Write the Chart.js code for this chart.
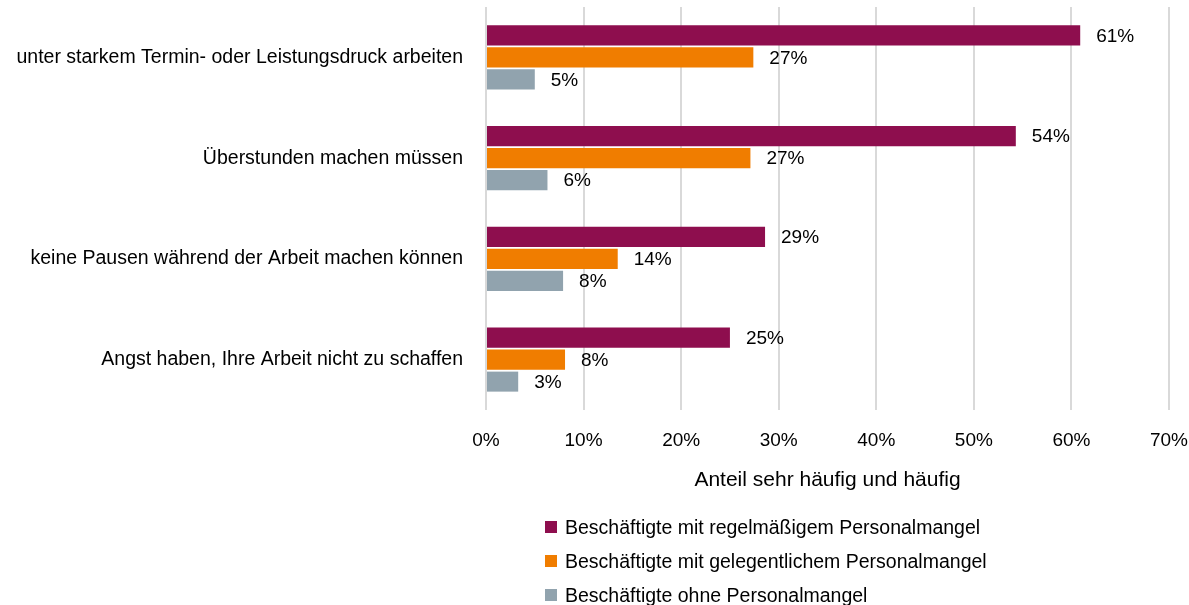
<!DOCTYPE html>
<html lang="de">
<head>
    <meta charset="UTF-8">
    <title>Personalmangel und Arbeitsbelastung</title>
    <script src="https://cdn.jsdelivr.net/npm/chart.js@4.4.1/dist/chart.umd.min.js"></script>
    <style>
        html, body {
            margin: 0;
            padding: 0;
            background: #fff;
        }
        #wrap {
            position: relative;
            width: 1189px;
            height: 605px;
            font-family: "Liberation Sans", Arial, sans-serif;
        }
        #legend {
            position: absolute;
            left: 545px;
            top: 510px;
            margin: 0;
            padding: 0;
            list-style: none;
        }
        #legend li {
            display: flex;
            align-items: center;
            height: 34px;
            font-size: 19.5px;
            color: #000;
            white-space: nowrap;
        }
        #legend span {
            display: inline-block;
            width: 12px;
            height: 12px;
            margin-right: 8px;
        }
    </style>
</head>
<body>
    <div id="wrap">
        <canvas id="chart" width="1189" height="605"></canvas>
        <ul id="legend"></ul>
    </div>

    <script>
        const categories = [
            'unter starkem Termin- oder Leistungsdruck arbeiten',
            'Überstunden machen müssen',
            'keine Pausen während der Arbeit machen können',
            'Angst haben, Ihre Arbeit nicht zu schaffen'
        ];
        const seriesNames = [
            'Beschäftigte mit regelmäßigem Personalmangel',
            'Beschäftigte mit gelegentlichem Personalmangel',
            'Beschäftigte ohne Personalmangel'
        ];
        const regelmaessig = [60.9, 54.3, 28.6, 25.0];
        const gelegentlich = [27.4, 27.1, 13.5, 8.1];
        const ohne = [5.0, 6.3, 7.9, 3.3];
        const xTicks = [0, 10, 20, 30, 40, 50, 60, 70];
        const colors = ['#8e0e4e', '#f07d00', '#91a3ae'];

        const FONT = '"Liberation Sans", Arial, sans-serif';

        // value labels right of each bar
        const barLabels = {
            id: 'barLabels',
            afterDatasetsDraw(chart) {
                const ctx = chart.ctx;
                ctx.save();
                ctx.font = '19px ' + FONT;
                ctx.fillStyle = '#000';
                ctx.textAlign = 'left';
                ctx.textBaseline = 'middle';
                chart.data.datasets.forEach((ds, i) => {
                    chart.getDatasetMeta(i).data.forEach((bar, j) => {
                        ctx.fillText(Math.round(ds.data[j]) + '%', bar.x + 16, bar.y + 1);
                    });
                });
                ctx.restore();
            }
        };

        const chart = new Chart(document.getElementById('chart').getContext('2d'), {
            type: 'bar',
            data: {
                labels: categories,
                datasets: [regelmaessig, gelegentlich, ohne].map((d, i) => ({
                    label: seriesNames[i],
                    data: d,
                    backgroundColor: colors[i],
                    categoryPercentage: 0.655,
                    barPercentage: 0.91
                }))
            },
            options: {
                indexAxis: 'y',
                responsive: false,
                animation: false,
                layout: { padding: { top: 7, bottom: 112, left: 0, right: 0 } },
                plugins: {
                    legend: { display: false },
                    tooltip: { enabled: false }
                },
                scales: {
                    x: {
                        min: 0,
                        max: 70,
                        afterBuildTicks: (scale) => { scale.ticks = xTicks.map(v => ({ value: v })); },
                        afterFit: (scale) => {
                            scale.height = 83;
                            scale.paddingLeft = 0;
                            scale.paddingRight = 20;
                        },
                        grid: { color: '#d9d9d9', lineWidth: 2, drawTicks: false },
                        border: { display: false },
                        ticks: {
                            color: '#000',
                            padding: 19,
                            maxRotation: 0,
                            font: { family: FONT, size: 19 },
                            callback: (v) => v + '%'
                        },
                        title: {
                            display: true,
                            text: 'Anteil sehr häufig und häufig',
                            color: '#000',
                            font: { family: FONT, size: 21 },
                            padding: { top: 12, bottom: 0 }
                        }
                    },
                    y: {
                        grid: { display: false },
                        border: { display: false },
                        afterFit: (scale) => {
                            scale.width = 486;
                            scale.paddingTop = 0;
                            scale.paddingBottom = 0;
                        },
                        ticks: {
                            color: '#000',
                            padding: 15,
                            font: { family: FONT, size: 19.5 }
                        }
                    }
                }
            },
            plugins: [barLabels]
        });

        // legend as a list, one series per row
        const legend = document.getElementById('legend');
        chart.data.datasets.forEach(ds => {
            const li = document.createElement('li');
            const box = document.createElement('span');
            box.style.background = ds.backgroundColor;
            li.appendChild(box);
            li.appendChild(document.createTextNode(ds.label));
            legend.appendChild(li);
        });
    </script>
</body>
</html>
